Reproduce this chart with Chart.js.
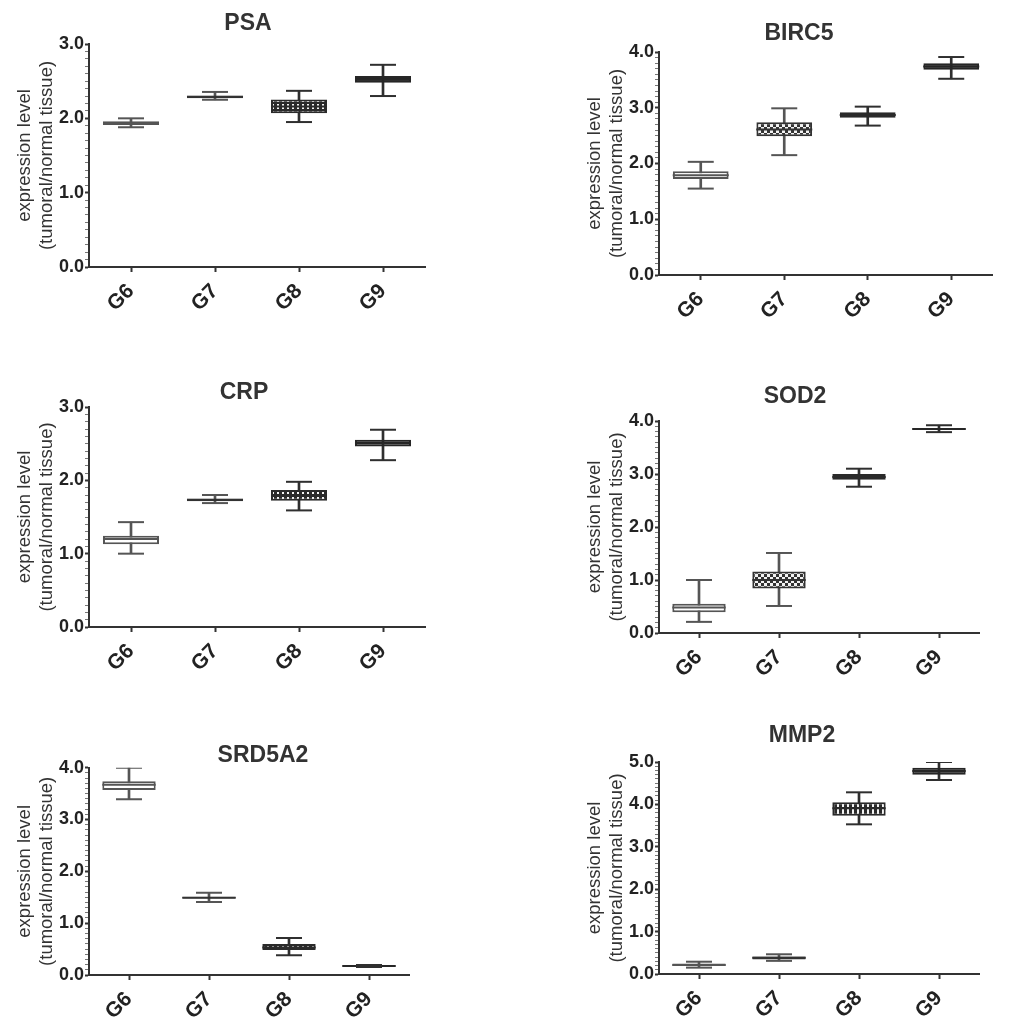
<!DOCTYPE html>
<html><head><meta charset="utf-8">
<script src="https://cdn.jsdelivr.net/npm/chart.js@4.4.1/dist/chart.umd.min.js"></script>
<style>
html,body{margin:0;padding:0;background:#fff;overflow:hidden;width:1020px;height:1023px;}
.p{position:absolute;}
canvas{display:block;}
</style></head><body>
<div id="root"></div>
<script>
// ---------- DATA ----------
const categories = ['G6', 'G7', 'G8', 'G9'];
const panelTitles = ['PSA', 'BIRC5', 'CRP', 'SOD2', 'SRD5A2', 'MMP2'];
const yMaxValues = [3, 4, 3, 4, 4, 5];
const yAxisTitle = ['expression level', '(tumoral/normal tissue)'];

// whisker low, first quartile, median, third quartile, whisker high
const psaLow  = [1.88, 2.25, 1.95, 2.30];
const psaQ1   = [1.91, 2.27, 2.07, 2.48];
const psaMed  = [1.935, 2.29, 2.16, 2.52];
const psaQ3   = [1.96, 2.305, 2.255, 2.57];
const psaHigh = [2.00, 2.355, 2.37, 2.72];

const birc5Low  = [1.55, 2.15, 2.68, 3.52];
const birc5Q1   = [1.72, 2.49, 2.82, 3.68];
const birc5Med  = [1.79, 2.61, 2.87, 3.74];
const birc5Q3   = [1.86, 2.74, 2.92, 3.80];
const birc5High = [2.03, 2.99, 3.02, 3.91];

const crpLow  = [1.00, 1.69, 1.59, 2.275];
const crpQ1   = [1.13, 1.715, 1.72, 2.46];
const crpMed  = [1.20, 1.735, 1.80, 2.51];
const crpQ3   = [1.245, 1.75, 1.87, 2.555];
const crpHigh = [1.43, 1.80, 1.98, 2.69];

const sod2Low  = [0.21, 0.51, 2.76, 3.79];
const sod2Q1   = [0.39, 0.84, 2.89, 3.83];
const sod2Med  = [0.48, 1.00, 2.945, 3.85];
const sod2Q3   = [0.55, 1.16, 3.00, 3.87];
const sod2High = [1.00, 1.51, 3.10, 3.92];

const srdLow  = [3.39, 1.41, 0.38, 0.155];
const srdQ1   = [3.57, 1.475, 0.48, 0.16];
const srdMed  = [3.67, 1.49, 0.53, 0.175];
const srdQ3   = [3.74, 1.51, 0.60, 0.19];
const srdHigh = [4.00, 1.585, 0.715, 0.195];

const mmp2Low  = [0.15, 0.31, 3.53, 4.575];
const mmp2Q1   = [0.19, 0.34, 3.73, 4.70];
const mmp2Med  = [0.21, 0.385, 3.91, 4.79];
const mmp2Q3   = [0.245, 0.415, 4.05, 4.865];
const mmp2High = [0.29, 0.465, 4.285, 5.00];

const panelData = [
  {low: psaLow, q1: psaQ1, med: psaMed, q3: psaQ3, high: psaHigh},
  {low: birc5Low, q1: birc5Q1, med: birc5Med, q3: birc5Q3, high: birc5High},
  {low: crpLow, q1: crpQ1, med: crpMed, q3: crpQ3, high: crpHigh},
  {low: sod2Low, q1: sod2Q1, med: sod2Med, q3: sod2Q3, high: sod2High},
  {low: srdLow, q1: srdQ1, med: srdMed, q3: srdQ3, high: srdHigh},
  {low: mmp2Low, q1: mmp2Q1, med: mmp2Med, q3: mmp2Q3, high: mmp2High}
];

// ---------- LAYOUT / STYLE ----------
const layouts = [
  {L: 89,  s: 84, T: 44,  B: 267, ty: 23.5, rW: 66},
  {L: 659, s: 84, T: 52,  B: 275, ty: 33.5, rW: 28},
  {L: 89,  s: 84, T: 403, B: 627, ty: 388,  rW: 58},
  {L: 659, s: 80, T: 421, B: 633, ty: 396.5, rW: 36},
  {L: 89,  s: 80, T: 763, B: 975, ty: 750.5, rW: 112},
  {L: 659, s: 80, T: 762, B: 974, ty: 735,  rW: 50}
];
const FONT = "'Liberation Sans', Arial, Helvetica, sans-serif";

function makePattern(w, h, draw) {
  const c = document.createElement('canvas');
  c.width = w; c.height = h;
  const x = c.getContext('2d');
  draw(x);
  return x.createPattern(c, 'repeat');
}
const checker = makePattern(6, 6, x => {
  x.fillStyle = '#f2f2f2'; x.fillRect(0, 0, 6, 6);
  x.fillStyle = '#333333'; x.fillRect(0, 0, 3, 3); x.fillRect(3, 3, 3, 3);
});
const slots = makePattern(5, 7, x => {
  x.fillStyle = '#2a2a2a'; x.fillRect(0, 0, 5, 7);
  x.fillStyle = '#f4f4f4'; x.fillRect(2, 1, 2, 5);
});
const boxFills = ['#ffffff', checker, slots, '#262626'];
const boxBorders = ['#555555', '#333333', '#2a2a2a', '#262626'];
const whiskerColors = ['#555555', '#555555', '#2f2f2f', '#2f2f2f'];

const isMajor = v => Math.abs(v - Math.round(v)) < 1e-6;

const root = document.getElementById('root');
const yW = 84, hX = 48;

layouts.forEach((lay, i) => {
  const d = panelData[i];
  const W = yW + 4 * lay.s + lay.rW;
  const x0 = lay.L - yW;
  const y0 = Math.round(lay.ty - 11.5);
  const pb = lay.T - y0 - 23;
  const H = lay.B - y0 + hX;
  const wrap = document.createElement('div');
  wrap.className = 'p';
  wrap.style.left = x0 + 'px'; wrap.style.top = y0 + 'px';
  wrap.style.width = W + 'px'; wrap.style.height = H + 'px';
  const cv = document.createElement('canvas');
  cv.width = W; cv.height = H;
  cv.style.width = W + 'px'; cv.style.height = H + 'px';
  wrap.appendChild(cv);
  root.appendChild(wrap);

  const capR = 13;
  const medR = lay.s * 0.667 / 2;
  const pointSet = (vals, r, colors, order) => ({
    type: 'line', data: vals, showLine: false, pointStyle: 'line',
    pointRadius: r, pointHoverRadius: r, pointBorderWidth: 2,
    pointBorderColor: colors, pointBackgroundColor: colors, order: order
  });

  new Chart(cv, {
    type: 'bar',
    data: {
      labels: categories,
      datasets: [
        {type: 'bar', data: d.low.map((v, k) => [v, d.high[k]]), backgroundColor: whiskerColors,
         barThickness: 2, grouped: false, borderWidth: 0, order: 5},
        {type: 'bar', data: d.q1.map((v, k) => [v, d.q3[k]]), backgroundColor: boxFills,
         borderColor: boxBorders, borderWidth: 2, borderSkipped: false,
         barPercentage: 0.667, categoryPercentage: 1, grouped: false, order: 4},
        pointSet(d.med, medR, boxBorders, 3),
        pointSet(d.high, capR, whiskerColors, 2),
        pointSet(d.low, capR, whiskerColors, 1)
      ]
    },
    options: {
      responsive: false, animation: false, events: [],
      layout: {padding: 0},
      plugins: {
        legend: {display: false},
        tooltip: {enabled: false},
        title: {display: true, text: panelTitles[i], color: '#333',
          font: {family: FONT, size: 23, weight: 'bold', lineHeight: 1},
          padding: {top: 0, bottom: pb}}
      },
      scales: {
        x: {
          type: 'category', offset: true,
          grid: {offset: false, drawOnChartArea: false, drawTicks: true, tickLength: 5, tickColor: '#333', tickWidth: 2},
          border: {color: '#333', width: 2},
          ticks: {minRotation: 45, maxRotation: 45, color: '#222', padding: 7, autoSkip: false,
            font: {family: FONT, size: 21, weight: 'bold'}},
          afterFit: s => { s.height = hX; }
        },
        y: {
          position: 'left', min: 0, max: yMaxValues[i],
          ticks: {stepSize: 0.1, autoSkip: false, color: '#222', padding: 1,
            font: {family: FONT, size: 18, weight: 'bold'},
            callback: v => isMajor(v) ? Number(v).toFixed(1) : ''},
          grid: {drawOnChartArea: false, drawTicks: true, tickLength: 4,
            tickWidth: c => isMajor(c.tick.value) ? 2 : 1,
            tickColor: c => isMajor(c.tick.value) ? '#333' : '#777'},
          border: {color: '#333', width: 2},
          title: {display: true, text: yAxisTitle, color: '#333',
            font: {family: FONT, size: 18.5, lineHeight: 1.18}, padding: {top: 9, bottom: 0}},
          afterFit: s => { s.width = yW; }
        },
        r: {
          position: 'right', display: true,
          grid: {display: false, drawTicks: false}, border: {display: false},
          ticks: {display: false},
          afterFit: s => { s.width = lay.rW; }
        }
      }
    }
  });
});
</script>
</body></html>
